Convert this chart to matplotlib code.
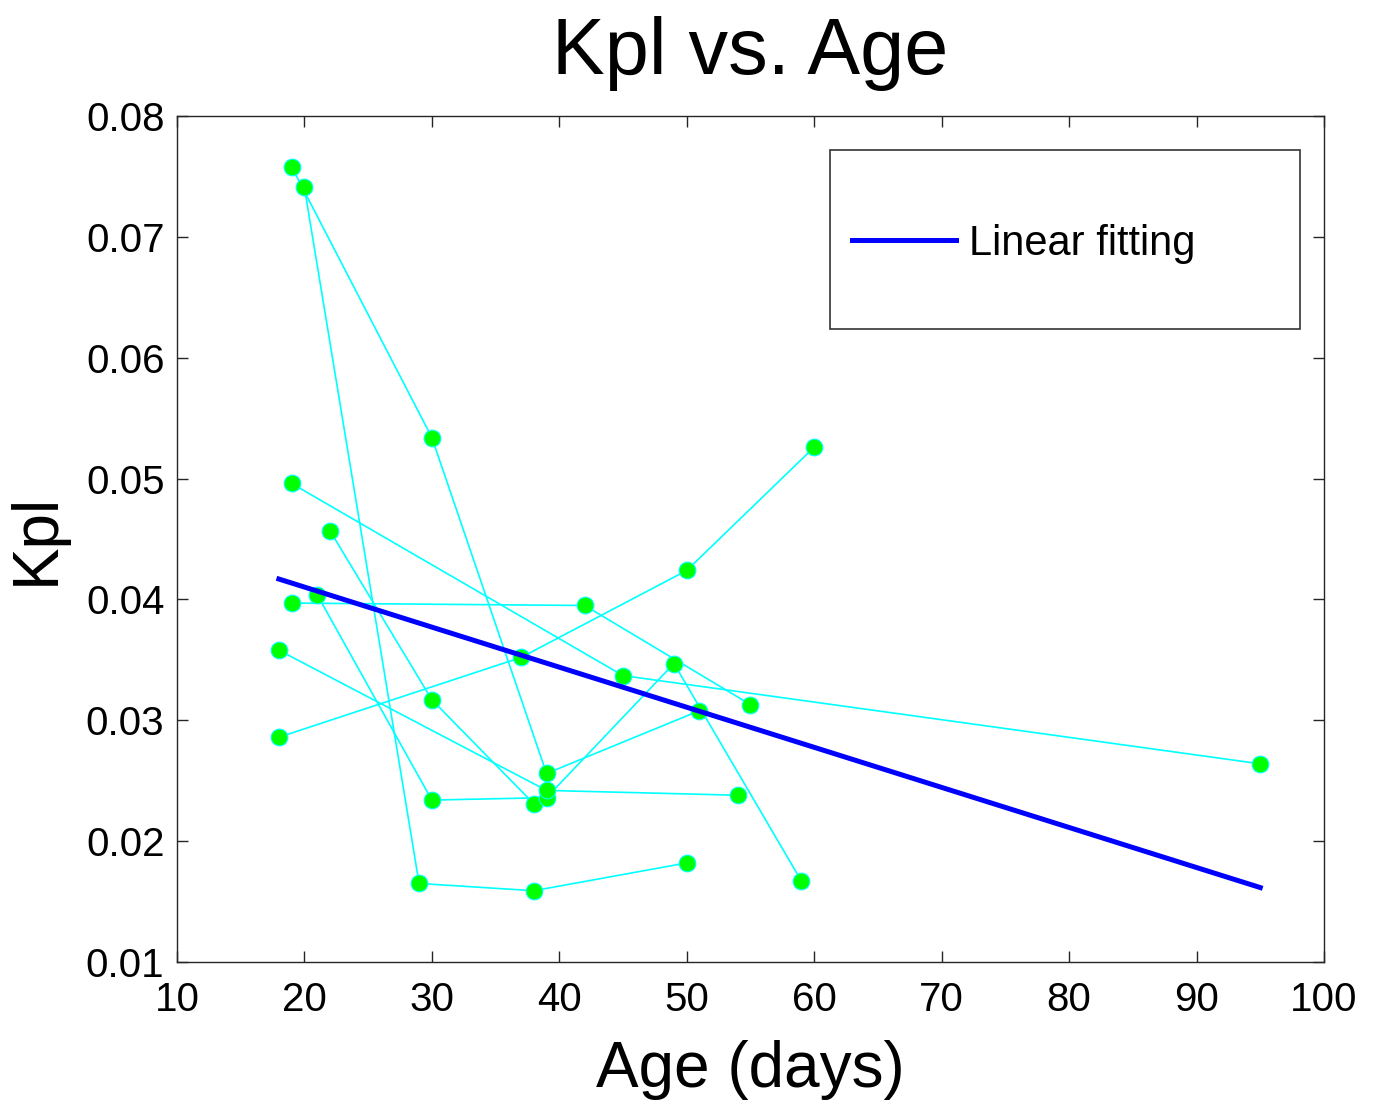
import numpy as np
import matplotlib.pyplot as plt
from matplotlib.patches import Rectangle

plt.rcParams['font.family'] = ['Liberation Sans', 'DejaVu Sans']

# one list of ages / Kpl values per subject, points joined in order
ages = [
    [19, 30, 39, 51],
    [20, 29, 38, 50],
    [19, 45, 95],
    [22, 30, 38],
    [21, 30, 39, 49, 59],
    [19, 42, 55],
    [18, 39, 54],
    [18, 37, 50, 60],
]
kpl = [
    [0.0758, 0.0534, 0.0256, 0.0308],
    [0.0741, 0.0165, 0.0159, 0.0182],
    [0.0496, 0.0337, 0.0264],
    [0.0457, 0.0317, 0.0231],
    [0.0404, 0.0234, 0.0236, 0.0347, 0.0167],
    [0.0397, 0.0395, 0.0313],
    [0.0358, 0.0242, 0.0238],
    [0.0286, 0.0352, 0.0424, 0.0526],
]

xticks = list(range(10, 101, 10))
yticks = [0.01, 0.02, 0.03, 0.04, 0.05, 0.06, 0.07, 0.08]

fig = plt.figure(figsize=(13.78, 11.04), dpi=100)
ax = fig.add_axes([0.1284, 0.1286, 0.8324, 0.7663])

for a, k in zip(ages, kpl):
    ax.plot(a, k, color='cyan', lw=1.2, zorder=2)
for a, k in zip(ages, kpl):
    ax.plot(a, k, 'o', ms=12, mfc='#00ff00', mec='cyan', mew=0.8, zorder=3)

# linear fit over every point
all_x = np.concatenate([np.array(a) for a in ages])
all_y = np.concatenate([np.array(k) for k in kpl])
p = np.polyfit(all_x, all_y, 1)
fx = np.array([all_x.min(), all_x.max()])
fit_line, = ax.plot(fx, np.polyval(p, fx), color='blue', lw=3.6, zorder=4,
                    label='Linear fitting')

ax.set_xlim(10, 100)
ax.set_ylim(0.01, 0.08)
ax.set_xticks(xticks)
ax.set_yticks(yticks)
ax.set_xticklabels([str(t) for t in xticks])
ax.set_yticklabels([f'{t:.2f}' for t in yticks])
ax.tick_params(direction='in', length=8, width=1, colors='#262626',
               labelcolor='black', labelsize=29, top=True, right=True)
ax.tick_params(axis='x', pad=14)
ax.tick_params(axis='y', pad=9)
for s in ax.spines.values():
    s.set_color('#262626')
    s.set_linewidth(1)

ax.set_title('Kpl vs. Age', fontsize=57, pad=30)
ax.set_xlabel('Age (days)', fontsize=46, labelpad=15)
ax.set_ylabel('Kpl', fontsize=46, labelpad=14)

ax.add_patch(Rectangle((0.5693, 0.7482), 0.4098, 0.2116, transform=ax.transAxes,
                       fill=False, edgecolor='#333333', lw=1.2, zorder=5))
ax.legend(handles=[fit_line], loc='center left', bbox_to_anchor=(0.5885, 0.8487),
          frameon=False, fontsize=30, handlelength=2.5, handletextpad=0.3,
          borderpad=0, borderaxespad=0)

fig.savefig('out.png', dpi=100)
